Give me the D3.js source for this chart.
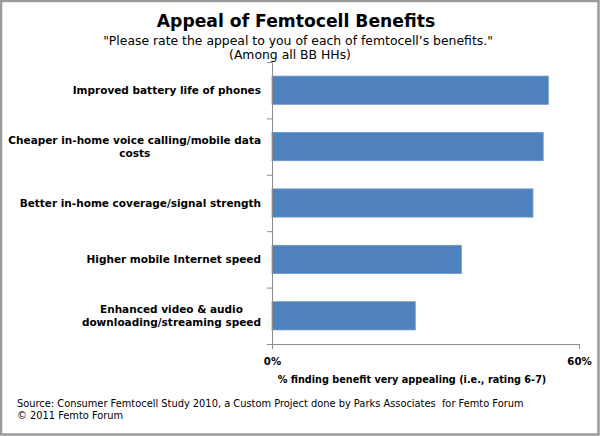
<!DOCTYPE html>
<html>
<head>
<meta charset="utf-8">
<script src="https://cdn.jsdelivr.net/npm/d3@7"></script>
<style>
  body { margin: 0; background: #fff; }
  svg { display: block; }
</style>
</head>
<body>
<div id="chart"></div>
<script>
// data
const benefits = [
  "Improved battery life of phones",
  "Cheaper in-home voice calling/mobile data\ncosts",
  "Better in-home coverage/signal strength",
  "Higher mobile Internet speed",
  "Enhanced video & audio\ndownloading/streaming speed"
];
const appeal = [0.54, 0.53, 0.51, 0.37, 0.28];
const xTicks = [0, 0.6];

const title = "Appeal of Femtocell Benefits";
const subtitle = "\"Please rate the appeal to you of each of femtocell\u2019s benefits.\"";
const subtitle2 = "(Among all BB HHs)";
const xTitle = "% finding benefit very appealing (i.e., rating 6-7)";
const source = "Source: Consumer Femtocell Study 2010, a Custom Project done by Parks Associates  for Femto Forum";
const copyright = "\u00a9 2011 Femto Forum";

const W = 600, H = 436;
const plot = {left: 272, right: 579, top: 62, bottom: 344};
const font = "'DejaVu Sans', Verdana, sans-serif";
const axisColor = "#8c8c8c";

const svg = d3.select("#chart").append("svg")
  .attr("width", W)
  .attr("height", H)
  .style("font-family", font);

svg.append("rect")
  .attr("x", 0).attr("y", 0).attr("width", W).attr("height", H)
  .attr("fill", "#fff");

// frame round the picture
svg.append("rect")
  .attr("x", 1).attr("y", 1)
  .attr("width", W - 2.5).attr("height", H - 2.5)
  .attr("fill", "none")
  .attr("stroke", "#9a9a9a")
  .attr("stroke-width", 2.5);

// titles
svg.append("text")
  .attr("x", 296).attr("y", 27)
  .attr("text-anchor", "middle")
  .style("font-size", "17.2px").style("font-weight", "bold")
  .text(title);
svg.append("text")
  .attr("x", 298).attr("y", 45)
  .attr("text-anchor", "middle")
  .style("font-size", "12.4px")
  .text(subtitle);
svg.append("text")
  .attr("x", 290).attr("y", 58.5)
  .attr("text-anchor", "middle")
  .style("font-size", "12.4px")
  .text(subtitle2);

// scales
const x = d3.scaleLinear()
  .domain([0, 0.6])
  .range([plot.left, plot.right]);

const y = d3.scaleBand()
  .domain(benefits)
  .range([plot.top, plot.bottom])
  .paddingInner(0.5)
  .paddingOuter(0.25);

// bars
svg.append("g")
  .selectAll("rect")
  .data(benefits)
  .join("rect")
    .attr("x", x(0))
    .attr("y", d => y(d))
    .attr("width", (d, i) => x(appeal[i]) - x(0))
    .attr("height", y.bandwidth())
    .attr("fill", "#4f81bd")
    .attr("stroke", "#6b96cb")
    .attr("stroke-width", 0.8);

// left axis: ticks sit between categories
const yEdge = d3.scaleLinear()
  .domain([0, benefits.length])
  .range([plot.top, plot.bottom]);
const yAxis = svg.append("g")
  .attr("transform", `translate(${plot.left},0)`)
  .call(d3.axisLeft(yEdge).ticks(benefits.length).tickFormat("").tickSize(5).tickSizeOuter(0));

// bottom axis
const xAxis = svg.append("g")
  .attr("transform", `translate(0,${plot.bottom})`)
  .call(d3.axisBottom(x).tickValues(xTicks).tickFormat(d3.format(".0%"))
    .tickSize(5).tickSizeOuter(0).tickPadding(9));

[yAxis, xAxis].forEach(g => {
  g.select(".domain").attr("stroke", axisColor);
  g.selectAll(".tick line").attr("stroke", axisColor);
});
xAxis.selectAll(".tick text")
  .attr("fill", "#000")
  .style("font-family", font)
  .style("font-size", "10.2px")
  .style("font-weight", "bold");

// category labels, wrapped lines centred on each other, block right aligned
const labelRight = 261;
const lineH = 13;
const labels = svg.append("g")
  .style("font-size", "10.5px")
  .style("font-weight", "bold");
benefits.forEach(b => {
  const lines = b.split("\n");
  const cy = y(b) + y.bandwidth() / 2;
  const t = labels.append("text")
    .attr("text-anchor", "middle");
  lines.forEach((ln, j) => {
    t.append("tspan")
      .attr("y", cy + (j - (lines.length - 1) / 2) * lineH)
      .attr("dy", "0.35em")
      .text(ln);
  });
  const widths = t.selectAll("tspan").nodes().map(n => n.getComputedTextLength());
  const cx = labelRight - d3.max(widths) / 2;
  t.selectAll("tspan").attr("x", cx);
});

// axis title
svg.append("text")
  .attr("x", 412).attr("y", 383)
  .attr("text-anchor", "middle")
  .style("font-size", "9.7px").style("font-weight", "bold")
  .text(xTitle);

// source
svg.append("text")
  .attr("x", 17).attr("y", 407)
  .style("font-size", "9.85px")
  .style("white-space", "pre")
  .text(source);
svg.append("text")
  .attr("x", 17).attr("y", 419)
  .style("font-size", "9.85px")
  .text(copyright);
</script>
</body>
</html>
